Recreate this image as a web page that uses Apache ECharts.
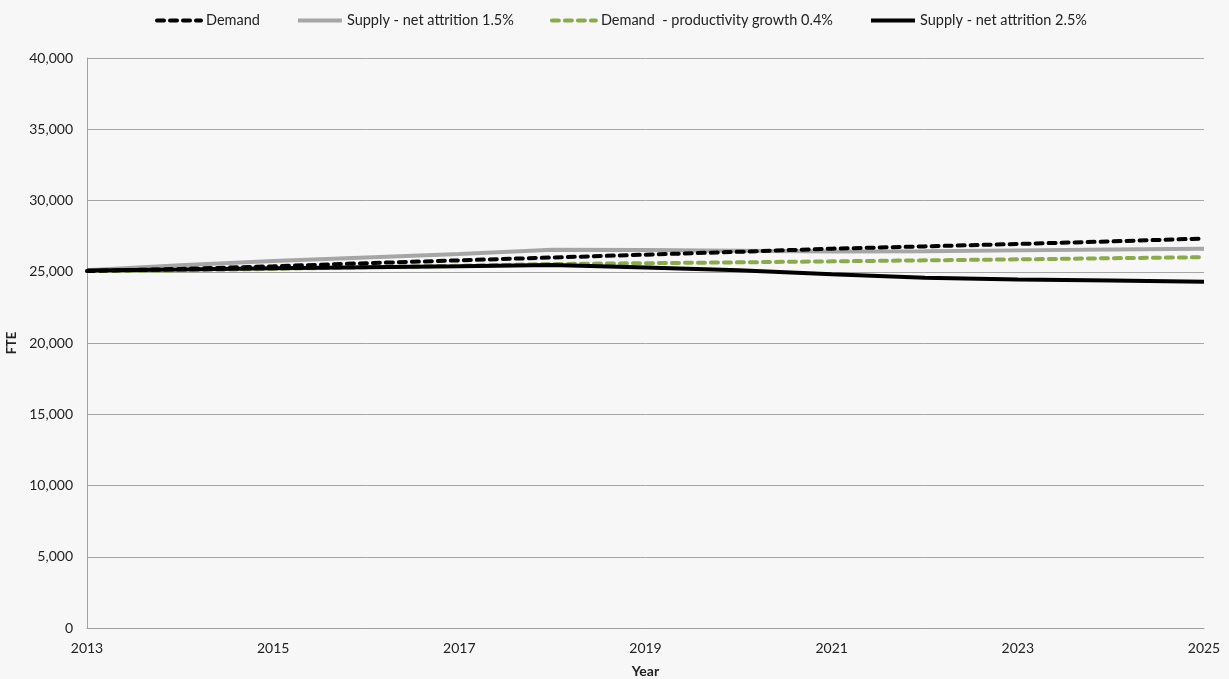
<!DOCTYPE html>
<html><head><meta charset="utf-8">
<script src="https://cdn.jsdelivr.net/npm/echarts@6/dist/echarts.min.js"></script>
<style>html,body{margin:0;padding:0;background:#f7f7f7;}#c{width:1229px;height:679px;}</style>
</head><body><div id="c"></div>
<script>
const years = ['2013','2014','2015','2016','2017','2018','2019','2020','2021','2022','2023','2024','2025'];
const demand = [25050,25200,25380,25600,25800,26000,26200,26400,26620,26780,26950,27130,27330];
const supply15 = [25100,25450,25750,26000,26250,26550,26530,26480,26420,26430,26500,26560,26620];
const demandProd = [25050,25100,25200,25320,25420,25540,25600,25660,25730,25800,25870,25950,26020];
const supply25 = [25080,25150,25250,25320,25380,25480,25300,25100,24830,24580,24450,24380,24300];
const seriesNames = ['Demand','Supply - net attrition 1.5%','Demand  - productivity growth 0.4%','Supply - net attrition 2.5%'];

const font = "Lato,'Open Sans','Liberation Sans',sans-serif";
const chart = echarts.init(document.getElementById('c'));
function mk(name, data, color, type, width, z) {
  return {name, type:'line', data, symbol:'none', smooth:false, z,
    lineStyle:{color, width, type, cap: type==='solid'?'butt':'round'},
    itemStyle:{color}};
}
chart.setOption({
  backgroundColor:'#f7f7f7',
  textStyle:{fontFamily:font},
  legend:{top:8, left:150, itemGap:36, itemWidth:44, itemHeight:14,
    itemStyle:{opacity:0},
    lineStyle:{width:4},
    textStyle:{fontFamily:font, fontSize:14.5, color:'#222'},
    data:seriesNames},
  grid:{left:87, right:25, top:58, bottom:51, containLabel:false, outerBoundsMode:'none'},
  xAxis:{type:'category', data:years, boundaryGap:false,
    name:'Year', nameLocation:'middle', nameGap:36,
    nameTextStyle:{fontFamily:font, fontSize:14, fontWeight:'bold', color:'#222'},
    axisLine:{lineStyle:{color:'#a0a0a0', width:1}},
    axisTick:{show:false},
    axisLabel:{interval:1, color:'#222', fontSize:14, fontFamily:font, margin:13}},
  yAxis:{type:'value', min:0, max:40000, interval:5000,
    name:'FTE', nameLocation:'middle', nameGap:64, nameRotate:90,
    nameTextStyle:{fontFamily:font, fontSize:13, fontWeight:'bold', color:'#222'},
    axisLine:{show:true, lineStyle:{color:'#a0a0a0', width:1}},
    axisTick:{show:false},
    splitLine:{lineStyle:{color:'#a6a6a6', width:1}},
    axisLabel:{color:'#222', fontSize:14, fontFamily:font, margin:14,
      formatter:v=>v.toLocaleString('en-US')}},
  series:[
    mk(seriesNames[1], supply15, '#a6a6a6', 'solid', 4, 2),
    mk(seriesNames[2], demandProd, '#8aab4a', [7,6], 4, 3),
    mk(seriesNames[3], supply25, '#000000', 'solid', 4, 4),
    mk(seriesNames[0], demand, '#000000', [7,6], 4, 5)
  ]
});
</script></body></html>
